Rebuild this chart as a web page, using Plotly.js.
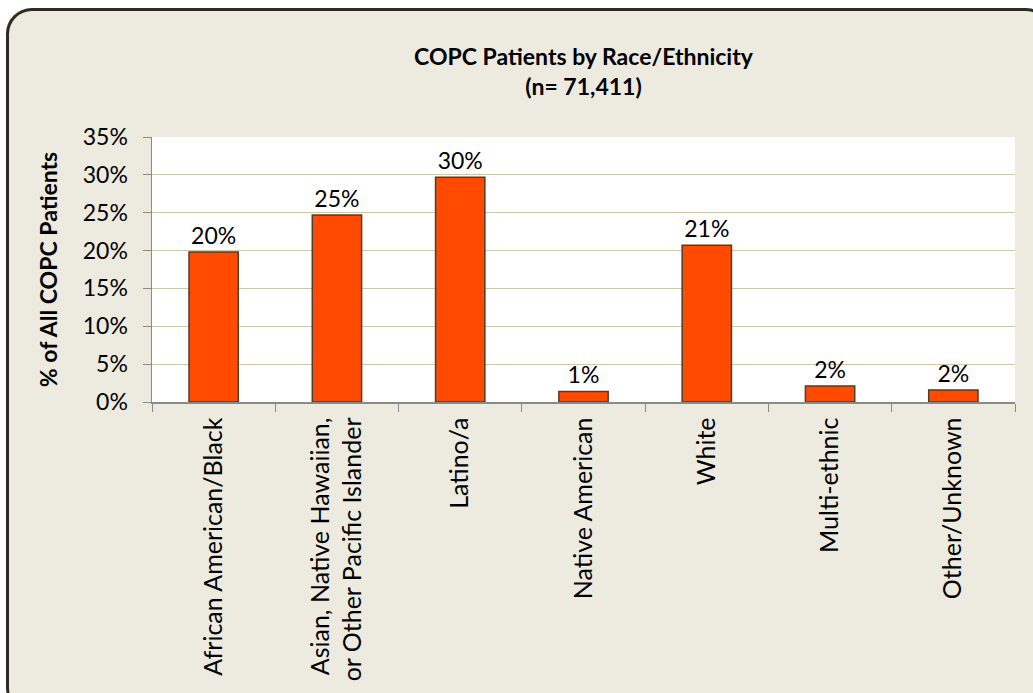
<!DOCTYPE html>
<html>
<head>
<meta charset="utf-8">
<script src="https://cdn.plot.ly/plotly-3.0.1.min.js"></script>
<style>
  html, body { margin: 0; padding: 0; width: 1033px; height: 693px; overflow: hidden; background: #ffffff; }
  #frame {
    position: absolute; left: 6px; top: 8px; width: 1040px; height: 700px;
    background: #edeae0; border: 3px solid #2e2c22; border-radius: 26px;
  }
  #chart { position: absolute; left: 0; top: 0; width: 1033px; height: 693px; }
</style>
</head>
<body>
<div id="frame"></div>
<div id="chart"></div>
<script>
// Categorías y porcentajes
const categorias = [
    'African American/Black',
    'Asian, Native Hawaiian,<br>or Other Pacific Islander',
    'Latino/a',
    'Native American',
    'White',
    'Multi-ethnic',
    'Other/Unknown'
];
const porcentajes = [19.8, 24.7, 29.7, 1.4, 20.7, 2.1, 1.6];
const ticksY = [0, 5, 10, 15, 20, 25, 30, 35];

const fuente = 'Lato, "Open Sans", sans-serif';

const barras = {
    x: categorias,
    y: porcentajes,
    type: 'bar',
    width: 0.4,
    marker: { color: '#ff4a00', line: { color: '#4a3f2a', width: 1.5 } },
    text: porcentajes.map(v => Math.round(v) + '%'),
    textposition: 'outside',
    cliponaxis: false,
    textfont: { family: fuente, size: 23, color: '#000' },
    hoverinfo: 'skip'
};

const layout = {
    width: 1033,
    height: 693,
    paper_bgcolor: 'rgba(0,0,0,0)',
    plot_bgcolor: '#ffffff',
    margin: { l: 152, r: 18, t: 137, b: 291 },
    showlegend: false,
    font: { family: fuente, color: '#000' },
    title: {
        text: '<b>COPC Patients by Race/Ethnicity<br>(n= 71,411)</b>',
        x: 0.5,
        xref: 'paper',
        y: 0.906,
        yanchor: 'top',
        font: { family: fuente, size: 23, color: '#000' }
    },
    xaxis: {
        type: 'category',
        tickangle: -90,
        tickson: 'boundaries',
        ticks: 'outside',
        ticklen: 8,
        tickcolor: '#8a8a8a',
        showline: true,
        linecolor: '#8a8a8a',
        linewidth: 1.5,
        showgrid: false,
        ticklabelstandoff: 4,
        tickfont: { family: fuente, size: 25, color: '#000' }
    },
    yaxis: {
        range: [0, 35],
        tickvals: ticksY,
        ticktext: ticksY.map(v => v + '%'),
        ticks: 'outside',
        ticklen: 8,
        tickcolor: '#8a8a8a',
        showline: true,
        linecolor: '#8a8a8a',
        linewidth: 1.5,
        gridcolor: '#cfc8a8',
        gridwidth: 1,
        zeroline: false,
        ticklabelstandoff: 10,
        tickfont: { family: fuente, size: 23, color: '#000' },
        title: {
            text: '<b>% of All COPC Patients</b>',
            font: { family: fuente, size: 23, color: '#000' },
            standoff: 18
        }
    },
    bargap: 0.6
};

Plotly.newPlot('chart', [barras], layout, { displayModeBar: false, staticPlot: true });
</script>
</body>
</html>
